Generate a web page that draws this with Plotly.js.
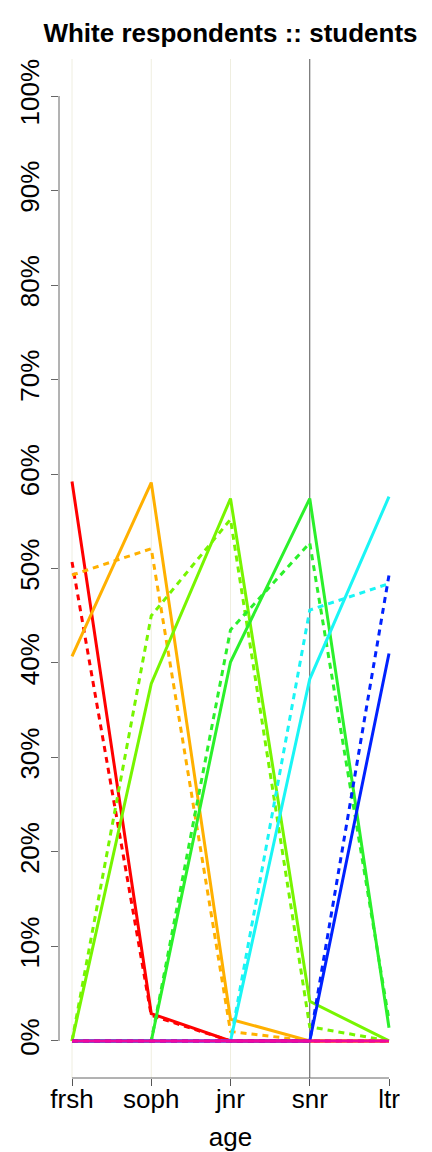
<!DOCTYPE html>
<html>
<head>
<meta charset="utf-8">
<script src="https://cdn.plot.ly/plotly-3.0.1.min.js"></script>
<style>html,body{margin:0;padding:0;background:#fff;}#chart{width:432px;height:1152px;}</style>
</head>
<body>
<div id="chart"></div>
<script>
// Data (percent of respondents)
const categories = ['frsh', 'soph', 'jnr', 'snr', 'ltr'];
const yTickVals = [0, 10, 20, 30, 40, 50, 60, 70, 80, 90, 100];
const yTickText = ['0%', '10%', '20%', '30%', '40%', '50%', '60%', '70%', '80%', '90%', '100%'];

const redSolid     = [59.2, 2.9, 0, 0, 0];
const redDot       = [50.7, 2.7, 0, 0, 0];
const orangeSolid  = [40.7, 59.1, 2.3, 0, 0];
const orangeDot    = [49.3, 52.1, 1.0, 0, 0];
const chartSolid   = [0, 37.8, 57.4, 4.2, 0];
const chartDot     = [0, 45.0, 55.2, 1.5, 0];
const greenSolid   = [0, 0, 40.1, 57.4, 1.4];
const greenDot     = [0, 0, 43.5, 52.7, 2.2];
const cyanSolid    = [0, 0, 0, 38.3, 57.6];
const cyanDot      = [0, 0, 0, 45.6, 48.4];
const blueSolid    = [0, 0, 0, 0, 41.0];
const blueDot      = [0, 0, 0, 0, 49.3];
const magentaSolid = [0, 0, 0, 0, 0];
const magentaDot   = [0, 0, 0, 0, 0];

const series = [
  {y: redSolid, c: '#FF0000', d: 'solid'},
  {y: redDot, c: '#FF0000', d: 'dot'},
  {y: orangeSolid, c: '#FFB000', d: 'solid'},
  {y: orangeDot, c: '#FFB000', d: 'dot'},
  {y: chartSolid, c: '#77F500', d: 'solid'},
  {y: chartDot, c: '#77F500', d: 'dot'},
  {y: greenSolid, c: '#2BF02B', d: 'solid'},
  {y: greenDot, c: '#2BF02B', d: 'dot'},
  {y: cyanSolid, c: '#1AF5F5', d: 'solid'},
  {y: cyanDot, c: '#1AF5F5', d: 'dot'},
  {y: blueSolid, c: '#0022FF', d: 'solid'},
  {y: blueDot, c: '#0022FF', d: 'dot'},
  {y: magentaSolid, c: '#F0089E', d: 'solid'},
  {y: magentaDot, c: '#F0089E', d: 'dot'}
];

const traces = series.map(s => ({
  type: 'scatter', mode: 'lines', x: categories, y: s.y,
  line: {color: s.c, width: 3, dash: s.d === 'dot' ? '6px,5px' : 'solid'},
  hoverinfo: 'skip', showlegend: false
}));

const shapes = [];
categories.slice(0, 3).forEach(c => shapes.push({
  type: 'line', xref: 'x', yref: 'paper', x0: c, x1: c, y0: 0, y1: 1,
  line: {color: '#EFEEE0', width: 1}, layer: 'below'
}));
shapes.push({
  type: 'line', xref: 'x', yref: 'paper', x0: categories[3], x1: categories[3], y0: 0, y1: 1,
  line: {color: '#555555', width: 1}, layer: 'below'
});
// R-style axis lines spanning only the tick range
shapes.push({
  type: 'line', xref: 'paper', yref: 'y', x0: 0, x1: 0, y0: yTickVals[0], y1: yTickVals[yTickVals.length - 1],
  line: {color: '#666666', width: 1}
});
shapes.push({
  type: 'line', xref: 'x', yref: 'paper', x0: categories[0], x1: categories[categories.length - 1], y0: 0, y1: 0,
  line: {color: '#666666', width: 1}
});

const font = 'Liberation Sans, Arial, Helvetica, sans-serif';
const layout = {
  width: 432, height: 1152,
  margin: {l: 59, r: 30, t: 59, b: 74, pad: 0},
  paper_bgcolor: '#FFFFFF', plot_bgcolor: '#FFFFFF',
  font: {family: font, color: '#000000', size: 26},
  title: {
    text: '<b>White respondents :: students</b>',
    font: {family: font, size: 26, color: '#000000'},
    x: 0.5, xref: 'paper', xanchor: 'center',
    y: 1 - 33 / 1152, yref: 'container', yanchor: 'middle'
  },
  xaxis: {
    type: 'category', categoryorder: 'array', categoryarray: categories,
    range: [-0.164, 4.164], showgrid: false, zeroline: false, showline: false,
    ticks: 'outside', ticklen: 7, tickcolor: '#555555', tickwidth: 1,
    tickfont: {family: font, size: 26, color: '#000000'},
    ticklabelstandoff: -9,
    title: {text: 'age', font: {family: font, size: 26, color: '#000000'}, standoff: 15},
    automargin: false, fixedrange: true
  },
  yaxis: {
    range: [-3.92, 103.92], tickmode: 'array', tickvals: yTickVals, ticktext: yTickText,
    tickangle: -90, showgrid: false, zeroline: false, showline: false,
    ticks: 'outside', ticklen: 7, tickcolor: '#666666', tickwidth: 1,
    tickfont: {family: font, size: 26, color: '#000000'},
    ticklabelstandoff: 2,
    automargin: false, fixedrange: true
  },
  shapes: shapes
};

Plotly.newPlot('chart', traces, layout, {displayModeBar: false, staticPlot: true});
</script>
</body>
</html>
